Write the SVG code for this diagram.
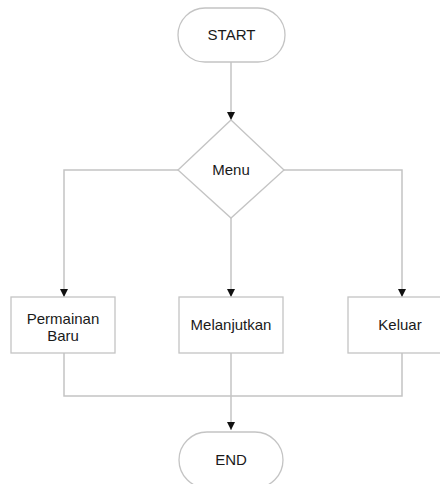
<svg xmlns="http://www.w3.org/2000/svg" width="440" height="484" viewBox="0 0 440 484">
<style>
.n{fill:#fff;stroke:#c4c4c4;stroke-width:1.3}
.c{fill:none;stroke:#c4c4c4;stroke-width:1.5}
text{font-family:"Liberation Sans",Arial,sans-serif;font-size:15px;fill:#1a1a1a;text-anchor:middle}
</style>
<defs>
<marker id="ah" markerWidth="8" markerHeight="8" refX="8" refY="4" orient="auto" markerUnits="userSpaceOnUse">
<path d="M0,0 L8,4 L0,8 Z" fill="#111"/>
</marker>
</defs>
<g id="connectors">
<path class="c" d="M231,62 V120" marker-end="url(#ah)"/>
<path class="c" d="M178,170 H64 V297" marker-end="url(#ah)"/>
<path class="c" d="M231,218 V297" marker-end="url(#ah)"/>
<path class="c" d="M284,170 H402 V297" marker-end="url(#ah)"/>
<path class="c" d="M64,353 V396 H402 V353"/>
<path class="c" d="M231,353 V430" marker-end="url(#ah)"/>
</g>
<g id="start">
<rect class="n" x="178" y="8" width="107" height="54" rx="27"/>
<text x="231.5" y="40">START</text>
</g>
<g id="menu">
<polygon class="n" points="231,120 284,170 231,218 178,170"/>
<text x="231" y="175">Menu</text>
</g>
<g id="permainan">
<rect class="n" x="11" y="297" width="104" height="56"/>
<text x="63" y="324">Permainan</text>
<text x="63" y="341">Baru</text>
</g>
<g id="melanjutkan">
<rect class="n" x="179" y="297" width="104" height="56"/>
<text x="231" y="330">Melanjutkan</text>
</g>
<g id="keluar">
<rect class="n" x="348" y="297" width="106" height="56"/>
<text x="400" y="330">Keluar</text>
</g>
<g id="end">
<rect class="n" x="179" y="432" width="104" height="56" rx="28"/>
<text x="231" y="465">END</text>
</g>
</svg>
